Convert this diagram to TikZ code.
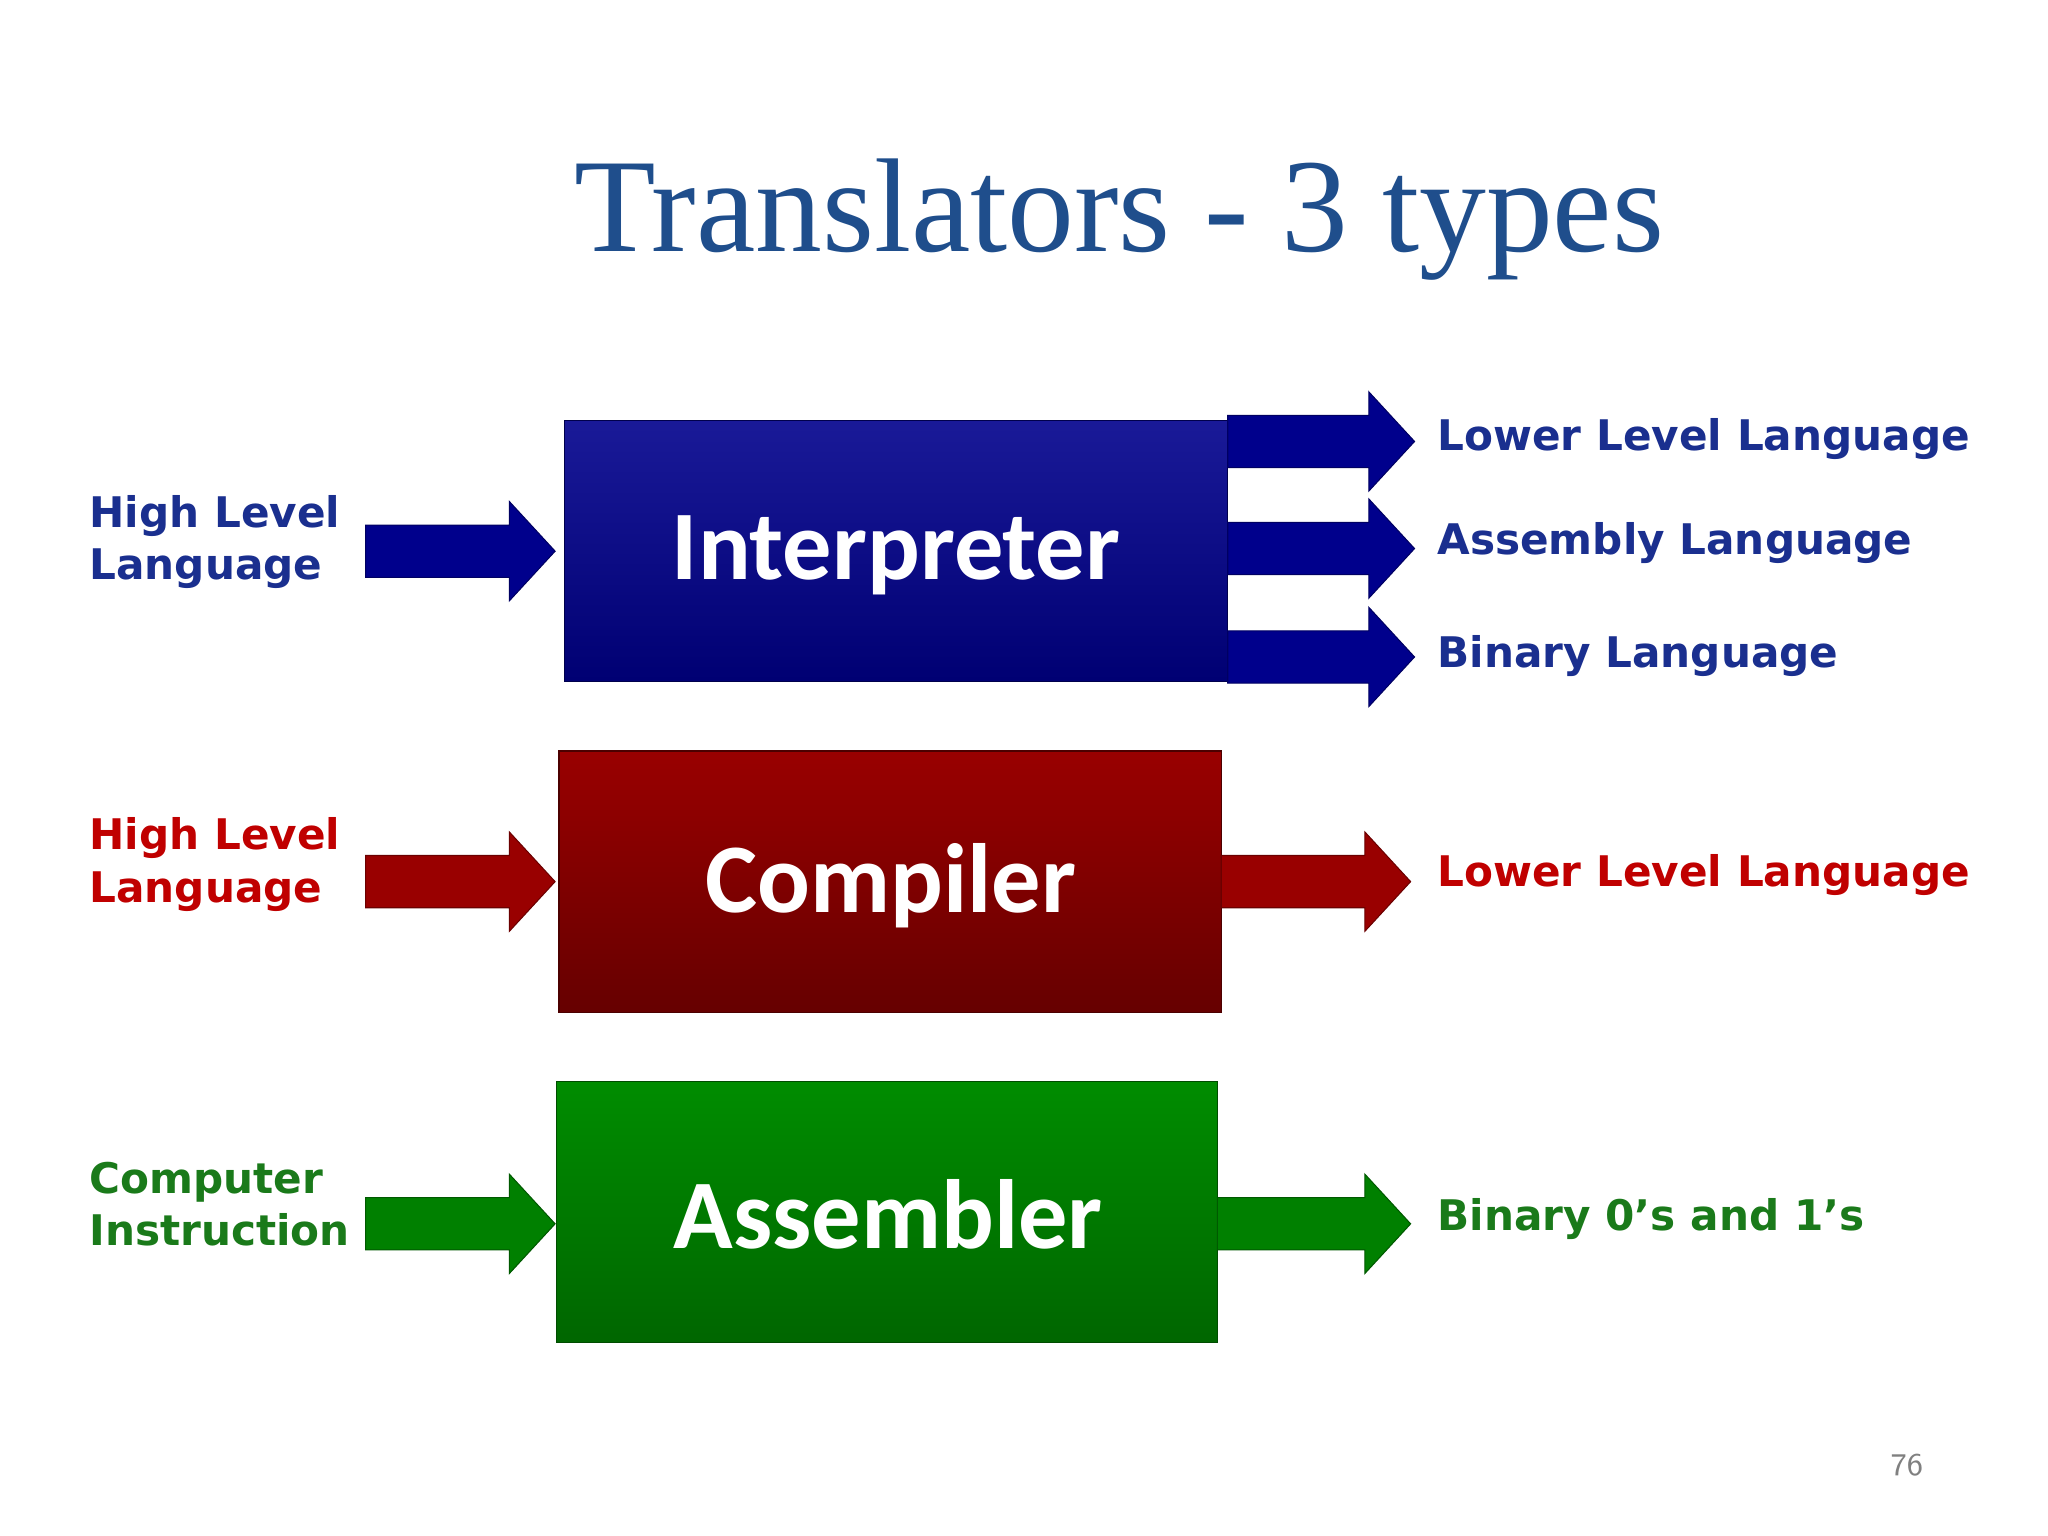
\documentclass[tikz,border=0pt]{standalone}
\usepackage{fontspec}
\setmainfont{Liberation Serif}
\newfontfamily\boxfont{Carlito}
\newfontfamily\lblfont{DejaVu Sans}
\definecolor{tblue}{HTML}{1F4E8C}
\definecolor{lblue}{HTML}{1A2F8F}
\definecolor{lred}{HTML}{C00000}
\definecolor{lgreen}{HTML}{1A7A1A}
\tikzset{
 lbl/.style={anchor=west,font=\lblfont\bfseries\fontsize{12}{15}\selectfont,align=left,inner sep=0pt},
 boxtxt/.style={font=\boxfont\bfseries\fontsize{28}{32}\selectfont,text=white},
}
\newcommand{\bigarr}[4]{% x1 x2 y colour
 \fill[#4,draw=#4!70!black,line width=0.3pt] (#1,#3-20) -- (#2-35,#3-20) -- (#2-35,#3-38) -- (#2,#3) -- (#2-35,#3+38) -- (#2-35,#3+20) -- (#1,#3+20) -- cycle;}
\begin{document}
\begin{tikzpicture}[x=0.01306cm,y=-0.01306cm]
\useasboundingbox (0,0) rectangle (1568,1176);
\fill[white] (0,0) rectangle (1568,1176);
\node[text=tblue,font=\fontsize{38}{44}\selectfont] (title) at (857,168) {Translators - 3 types};
% boxes
\shade[top color=blue!55!black!90, bottom color=blue!45!black, draw=blue!30!black] (432,322) rectangle (940,522);
\node[boxtxt] (interp) at (686,425) {Interpreter};
\shade[top color=red!60!black, bottom color=red!40!black, draw=red!30!black] (428,575) rectangle (935,775);
\node[boxtxt] (comp) at (682,678) {Compiler};
\shade[top color=green!55!black, bottom color=green!40!black, draw=green!30!black] (426,828) rectangle (932,1028);
\node[boxtxt] (asm) at (680,930) {Assembler};
% arrows
\bigarr{280}{425}{422}{blue!55!black}
\bigarr{940}{1083}{338}{blue!55!black}
\bigarr{940}{1083}{420}{blue!55!black}
\bigarr{940}{1083}{503}{blue!55!black}
\bigarr{280}{425}{675}{red!60!black}
\bigarr{935}{1080}{675}{red!60!black}
\bigarr{280}{425}{937}{green!50!black}
\bigarr{932}{1080}{937}{green!50!black}
% labels
\node[lbl,text=lblue] (in1) at (68,415) {High Level\\Language};
\node[lbl,text=lblue] (o1) at (1100,336) {Lower Level Language};
\node[lbl,text=lblue] (o2) at (1100,416) {Assembly Language};
\node[lbl,text=lblue] (o3) at (1100,502) {Binary Language};
\node[lbl,text=lred] (in2) at (68,662) {High Level\\Language};
\node[lbl,text=lred] (o4) at (1100,670) {Lower Level Language};
\node[lbl,text=lgreen] (in3) at (68,922) {Computer\\Instruction};
\node[lbl,text=lgreen] (o5) at (1100,933) {Binary 0’s and 1’s};
\node[text=gray,font=\sffamily\fontsize{9}{10}\selectfont] (pg) at (1460,1122) {76};
\end{tikzpicture}
\end{document}
